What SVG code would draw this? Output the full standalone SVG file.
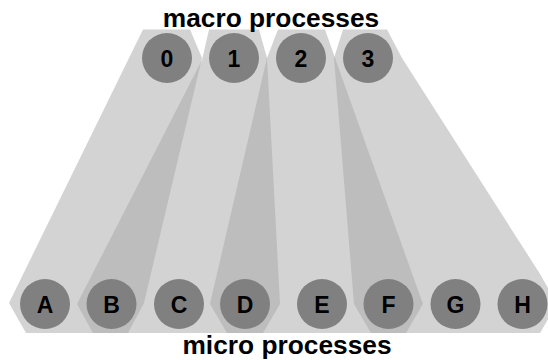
<svg xmlns="http://www.w3.org/2000/svg" width="548" height="360" viewBox="0 0 548 360">
<style>
.hull{fill:#a7a7a7;fill-opacity:0.5;stroke:none}
.node{fill:#808080;stroke:none}
.lbl{font-family:"Liberation Sans",Arial,sans-serif;font-weight:bold;font-size:23px;fill:#000;text-anchor:middle}
.title{font-family:"Liberation Sans",Arial,sans-serif;font-weight:bold;font-size:26.3px;fill:#000;text-anchor:middle}
</style>
<rect width="548" height="360" fill="#fff"/>
<g id="connectors">
<polygon class="hull" points="143,29.5 190,29.5 202,58 144,303 128,333 26,333 9,303"/>
<polygon class="hull" points="209,29.5 259,29.5 267,58 280,304 263,333 93,333 77,304 202,60"/>
<polygon class="hull" points="278,29.5 325,29.5 335,58 423,304 406,333 227,333 210,304 267,58"/>
<polygon class="hull" points="343,29.5 387,29.5 402,58 540,274 557,304 540,333 371,333 354,304 334,58"/>
</g>
<g id="node-0"><circle class="node" cx="167" cy="58" r="25"/><text class="lbl" x="167" y="67">0</text></g>
<g id="node-1"><circle class="node" cx="234" cy="58" r="25"/><text class="lbl" x="234" y="67">1</text></g>
<g id="node-2"><circle class="node" cx="301" cy="58" r="25"/><text class="lbl" x="301" y="67">2</text></g>
<g id="node-3"><circle class="node" cx="368" cy="58" r="25"/><text class="lbl" x="368" y="67">3</text></g>
<g id="node-A"><circle class="node" cx="45" cy="304" r="25"/><text class="lbl" x="45" y="312.5">A</text></g>
<g id="node-B"><circle class="node" cx="111.5" cy="304" r="25"/><text class="lbl" x="111.5" y="312.5">B</text></g>
<g id="node-C"><circle class="node" cx="179" cy="304" r="25"/><text class="lbl" x="179" y="312.5">C</text></g>
<g id="node-D"><circle class="node" cx="245" cy="304" r="25"/><text class="lbl" x="245" y="312.5">D</text></g>
<g id="node-E"><circle class="node" cx="322" cy="304" r="25"/><text class="lbl" x="322" y="312.5">E</text></g>
<g id="node-F"><circle class="node" cx="388.5" cy="304" r="25"/><text class="lbl" x="388.5" y="312.5">F</text></g>
<g id="node-G"><circle class="node" cx="455.5" cy="304" r="25"/><text class="lbl" x="455.5" y="312.5">G</text></g>
<g id="node-H"><circle class="node" cx="522.5" cy="304" r="25"/><text class="lbl" x="522.5" y="312.5">H</text></g>
<text class="title" x="271" y="27">macro processes</text>
<text class="title" x="287" y="354">micro processes</text>
</svg>
